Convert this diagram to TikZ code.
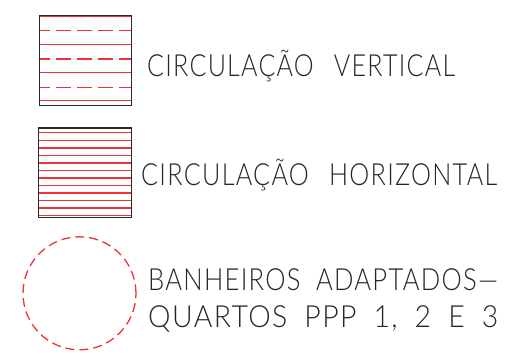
\documentclass[tikz,border=0pt]{standalone}
\usepackage{fontspec}
\setmainfont{Lato Light}[LetterSpace=5]
\usepackage{graphicx}
\newcommand\fitw[2]{\sbox0{#2}\pgfmathsetmacro\sxfac{#1/\wd0}\scalebox{\sxfac}[1]{\usebox0}}
\definecolor{cadred}{RGB}{238,50,55}
\definecolor{cadbox}{RGB}{40,40,40}
\tikzset{
  framebox/.style={draw=cadbox, line width=1.4pt},
  hatchsolid/.style={draw=cadred, line width=1.7pt},
  hatchdash/.style={draw=cadred, line width=1.7pt, dash pattern=on 14.5pt off 6.5pt, dash phase=4pt},
  circdash/.style={draw=cadred, line width=1.3pt, dash pattern=on 9pt off 5pt},
  label/.style={anchor=base west, inner sep=0pt, font=\fontsize{30.5}{36}\selectfont, text=black!85}
}
\begin{document}
\begin{tikzpicture}[x=1pt,y=-1pt]
\useasboundingbox (0,0) rectangle (509,360);
% box 1 - vertical circulation
\foreach \yy in {16.5,44.5,72.5,100.5} \draw[hatchsolid] (39,\yy) -- (131,\yy);
\foreach \yy in {30.5,59,87.5} \draw[hatchdash] (39,\yy) -- (131,\yy);
\node[framebox, minimum width=92pt, minimum height=90pt, inner sep=0pt, anchor=north west] (b1) at (39,15) {};
% box 2 - horizontal circulation
\foreach \yy in {132.5,140.5,148.0,155.5,163.0,170.5,178.0,185.5,193.0,200.5,208.0,215.5} \draw[hatchsolid] (38,\yy) -- (131,\yy);
\node[framebox, minimum width=93pt, minimum height=89.7pt, inner sep=0pt, anchor=north west] (b2) at (38,127.3) {};
% circle
\node[circdash, circle, minimum size=113pt, inner sep=0pt] (c1) at (79.5,293.3) {};
% labels
\node[label] (t1) at (147,76) {\fitw{308pt}{CIRCULAÇÃO\hspace{0.8em}VERTICAL}};
\node[label] (t2) at (141,185) {\fitw{356pt}{CIRCULAÇÃO\hspace{0.8em}HORIZONTAL}};
\node[label] (t3) at (148,290) {\fitw{350pt}{BANHEIROS\hspace{0.6em}ADAPTADOS—}};
\node[label] (t4) at (148,327) {\fitw{350pt}{QUARTOS\hspace{0.6em}PPP\hspace{0.6em}1,\hspace{0.6em}2\hspace{0.6em}E\hspace{0.6em}3}};
\end{tikzpicture}
\end{document}
